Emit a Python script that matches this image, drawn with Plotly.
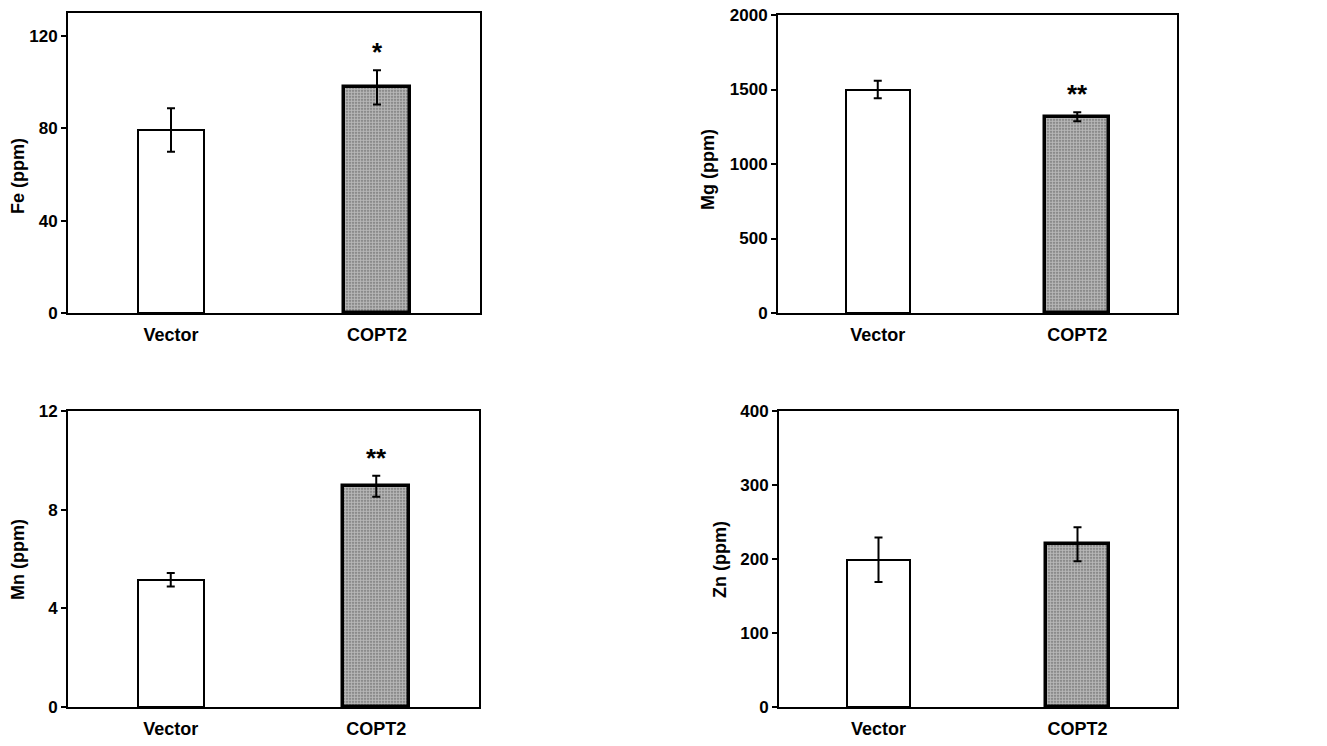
import plotly.graph_objects as go

categories = ["Vector", "COPT2"]

fe_mean = [79.3, 97.8]
fe_err = [9.4, 7.4]
mg_mean = [1500, 1317]
mg_err = [58, 30]
mn_mean = [5.16, 8.95]
mn_err = [0.27, 0.43]
zn_mean = [199, 220]
zn_err = [30, 23]

panels = [
    dict(name="Fe", mean=fe_mean, err=fe_err, yrange=[0, 130], tickvals=[0, 40, 80, 120],
         stars="*", star_y=113, ylabel="Fe (ppm)",
         xdom=[68 / 1327, 480 / 1327], ydom=[1 - 313 / 746, 1 - 13 / 746],
         title_x=18 / 1327, title_y=1 - 176 / 746),
    dict(name="Mg", mean=mg_mean, err=mg_err, yrange=[0, 2000], tickvals=[0, 500, 1000, 1500, 2000],
         stars="**", star_y=1470, ylabel="Mg (ppm)",
         xdom=[778 / 1327, 1177 / 1327], ydom=[1 - 313 / 746, 1 - 15 / 746],
         title_x=708 / 1327, title_y=1 - 170 / 746),
    dict(name="Mn", mean=mn_mean, err=mn_err, yrange=[0, 12], tickvals=[0, 4, 8, 12],
         stars="**", star_y=10.1, ylabel="Mn (ppm)",
         xdom=[68 / 1327, 479 / 1327], ydom=[1 - 707 / 746, 1 - 411 / 746],
         title_x=18 / 1327, title_y=1 - 560 / 746),
    dict(name="Zn", mean=zn_mean, err=zn_err, yrange=[0, 400], tickvals=[0, 100, 200, 300, 400],
         stars="", star_y=0, ylabel="Zn (ppm)",
         xdom=[779 / 1327, 1177 / 1327], ydom=[1 - 707 / 746, 1 - 411 / 746],
         title_x=720 / 1327, title_y=1 - 560 / 746),
]

FONT = "Liberation Sans, Arial, sans-serif"
fig = go.Figure()
annotations = []

for i, p in enumerate(panels, start=1):
    xa = "x" if i == 1 else f"x{i}"
    ya = "y" if i == 1 else f"y{i}"
    # Vector bar (white)
    fig.add_trace(go.Bar(
        x=[categories[0]], y=[p["mean"][0]], xaxis=xa, yaxis=ya, width=0.32,
        marker=dict(color="white", line=dict(color="black", width=2)),
        error_y=dict(type="data", array=[p["err"][0]], color="black", thickness=2, width=4),
        showlegend=False, hoverinfo="skip",
    ))
    # COPT2 bar (checkered)
    fig.add_trace(go.Bar(
        x=[categories[1]], y=[p["mean"][1]], xaxis=xa, yaxis=ya, width=0.32,
        marker=dict(color="#6e6e6e", line=dict(color="black", width=3.5),
                    pattern=dict(shape=".", fgcolor="#ffffff", bgcolor="#6e6e6e", size=3, solidity=0.7)),
        error_y=dict(type="data", array=[p["err"][1]], color="black", thickness=2, width=4),
        showlegend=False, hoverinfo="skip",
    ))
    axis_common = dict(showline=True, linecolor="black", linewidth=2, mirror=True,
                       showgrid=False, zeroline=False, automargin=False)
    fig.update_layout(**{
        ("xaxis" if i == 1 else f"xaxis{i}"): dict(
            domain=p["xdom"], anchor=ya, range=[-0.5, 1.5], categoryorder="array",
            categoryarray=categories, ticks="", ticklabelstandoff=4,
            tickfont=dict(family=FONT, size=18, color="black", weight="bold"),
            **axis_common),
        ("yaxis" if i == 1 else f"yaxis{i}"): dict(
            domain=p["ydom"], anchor=xa, range=p["yrange"], tickvals=p["tickvals"],
            ticks="outside", ticklen=5, tickwidth=2, tickcolor="black",
            tickfont=dict(family=FONT, size=17, color="black", weight="bold"),
            **axis_common),
    })
    if p["stars"]:
        annotations.append(dict(
            x=categories[1], y=p["star_y"], xref=xa, yref=ya, text=p["stars"], showarrow=False,
            font=dict(family=FONT, size=26, color="black", weight="bold")))
    annotations.append(dict(
        x=p["title_x"], y=p["title_y"], xref="paper", yref="paper", text=p["ylabel"],
        xanchor="center", yanchor="middle", textangle=-90, showarrow=False,
        font=dict(family=FONT, size=18, color="black", weight="bold")))

fig.update_layout(
    width=1327, height=746,
    margin=dict(l=0, r=0, t=0, b=0, autoexpand=False),
    paper_bgcolor="white", plot_bgcolor="white",
    annotations=annotations,
    bargap=0,
)

fig.write_html("out.html", config={"displayModeBar": False},
               post_script="document.body.style.margin='0';document.body.style.overflow='hidden';")
